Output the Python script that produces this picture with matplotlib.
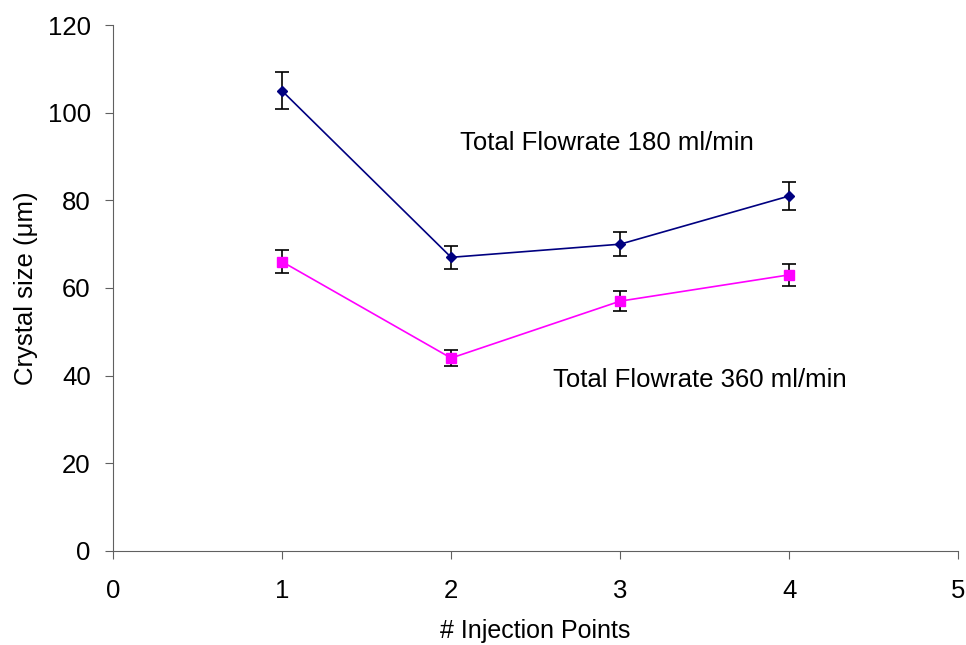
import numpy as np
import matplotlib.pyplot as plt

plt.rcParams['font.family'] = ['Liberation Sans', 'DejaVu Sans']

injection_points = [1, 2, 3, 4]
size_180 = [105, 67, 70, 81]
err_180 = [4.2, 2.7, 2.8, 3.2]
size_360 = [66, 44, 57, 63]
err_360 = [2.6, 1.75, 2.2, 2.5]

fig = plt.figure(figsize=(9.66, 6.45), dpi=100)
ax = fig.add_axes([0.117, 0.146, 0.875, 0.815])

ax.errorbar(injection_points, size_180, yerr=err_180, color='#000080',
            marker='D', markersize=5, linewidth=1.2, ecolor='black',
            elinewidth=1.2, capsize=5, capthick=1.2)
ax.errorbar(injection_points, size_360, yerr=err_360, color='#FF00FF',
            marker='s', markersize=7, linewidth=1.2, ecolor='black',
            elinewidth=1.2, capsize=5, capthick=1.2)

fs = 18.5
ax.text(2.05, 93, 'Total Flowrate 180 ml/min', fontsize=fs, va='center')
ax.text(2.6, 39, 'Total Flowrate 360 ml/min', fontsize=fs, va='center')

ax.set_xlim(0, 5)
ax.set_ylim(0, 120)
ax.set_xticks(range(0, 6))
ax.set_yticks(range(0, 121, 20))
ax.tick_params(labelsize=fs, color='#606060', length=6)
ax.tick_params(axis='x', pad=14)
ax.tick_params(axis='y', pad=10)
ax.spines['top'].set_visible(False)
ax.spines['right'].set_visible(False)
ax.spines['left'].set_color('#606060')
ax.spines['bottom'].set_color('#606060')

ax.set_xlabel('# Injection Points', fontsize=18, labelpad=12)
ax.set_ylabel('Crystal size (\u03bcm)', fontsize=fs, labelpad=7)

fig.savefig('out.png')
